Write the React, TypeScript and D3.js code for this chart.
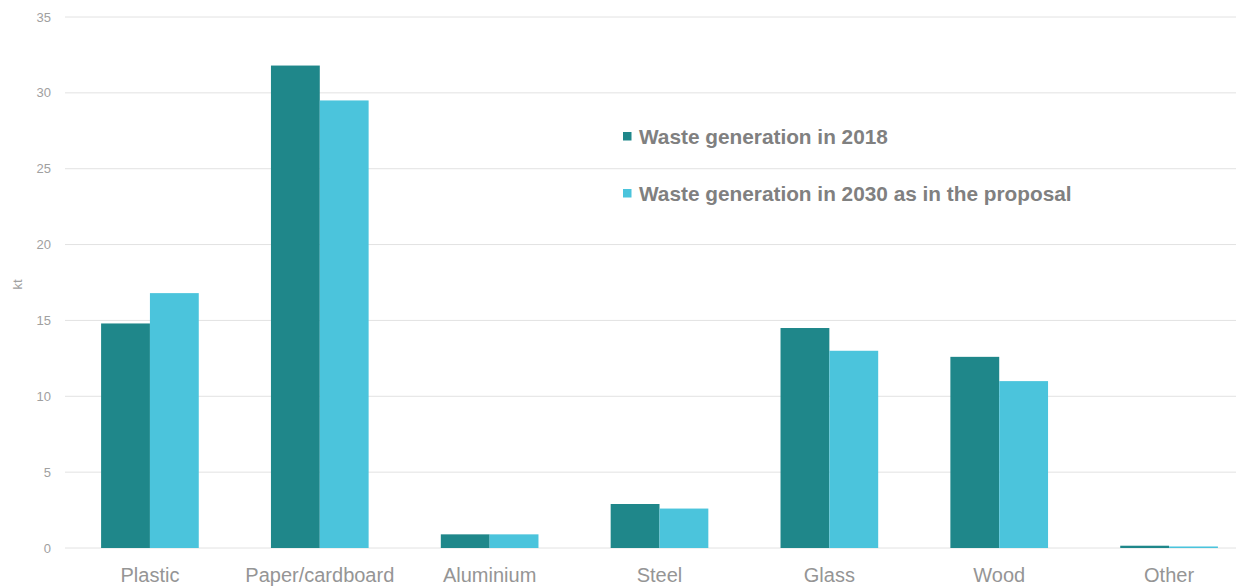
import React from "react";
import * as d3 from "d3";

const categories = ["Plastic", "Paper/cardboard", "Aluminium", "Steel", "Glass", "Wood", "Other"];
const waste2018 = [14.8, 31.8, 0.9, 2.9, 14.5, 12.6, 0.15];
const waste2030 = [16.8, 29.5, 0.9, 2.6, 13.0, 11.0, 0.1];
const seriesNames = ["Waste generation in 2018", "Waste generation in 2030 as in the proposal"];
const seriesColors = ["#1f878a", "#4bc4dc"];
const yTicks = [0, 5, 10, 15, 20, 25, 30, 35];

const W = 1236;
const H = 586;
const left = 65;
const right = 1254;
const top = 17;
const bottom = 548;

export default function App() {
  const x = d3.scaleBand<string>().domain(categories).range([left, right]).paddingInner(0.425).paddingOuter(0.2125);
  const x1 = d3.scaleBand<number>().domain([0, 1]).range([0, x.bandwidth()]);
  const y = d3.scaleLinear().domain([0, 35]).range([bottom, top]);
  const series = [waste2018, waste2030];
  return (
    <svg width={W} height={H} style={{ position: "absolute", left: 0, top: 0, background: "#fff" }}>
      {yTicks.map((t) => (
        <g key={t}>
          <line x1={left} x2={W} y1={y(t)} y2={y(t)} stroke="#e2e2e2" strokeWidth={1} />
          <text x={51} y={y(t)} dy="0.35em" textAnchor="end" fontFamily="Liberation Sans, Arial, sans-serif" fontSize={13} fill="#a0a0a0">
            {t}
          </text>
        </g>
      ))}
      <text transform={`translate(22,${(top + bottom) / 2 + 2}) rotate(-90)`} textAnchor="middle" fontFamily="Liberation Sans, Arial, sans-serif" fontSize={13} fill="#a0a0a0">
        kt
      </text>
      {categories.map((c, i) => (
        <g key={c} transform={`translate(${x(c)},0)`}>
          {series.map((s, j) => (
            <rect key={j} x={x1(j)} y={y(s[i])} width={x1.bandwidth()} height={y(0) - y(s[i])} fill={seriesColors[j]} />
          ))}
          <text x={x.bandwidth() / 2} y={582} textAnchor="middle" fontFamily="Liberation Sans, Arial, sans-serif" fontSize={20} fill="#959595">
            {c}
          </text>
        </g>
      ))}
      {seriesNames.map((n, j) => (
        <g key={n} transform={`translate(623,${144 + j * 57})`}>
          <rect x={0} y={-12} width={8.5} height={8.5} fill={seriesColors[j]} />
          <text x={16} y={0} fontFamily="Liberation Sans, Arial, sans-serif" fontSize={20.8} fontWeight="bold" fill="#808080">
            {n}
          </text>
        </g>
      ))}
    </svg>
  );
}
